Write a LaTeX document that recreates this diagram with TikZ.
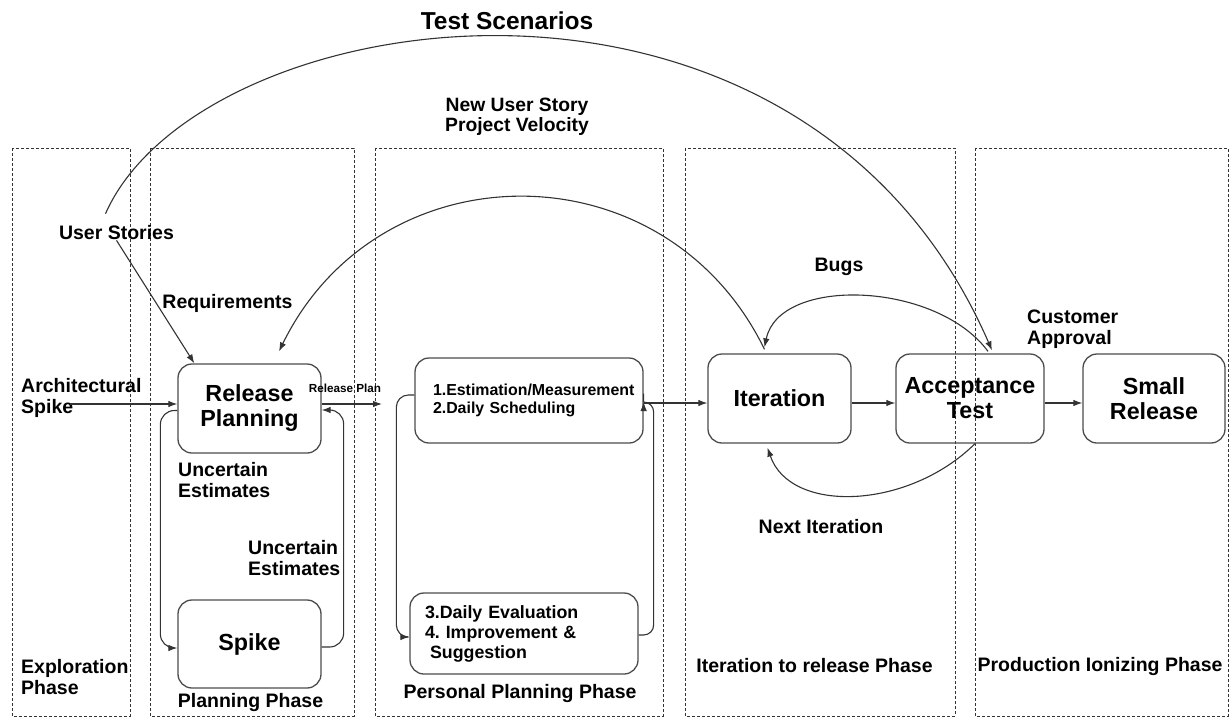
\documentclass[tikz,border=0pt]{standalone}
\usepackage{fontspec}
\setmainfont{Liberation Sans}
\usetikzlibrary{arrows.meta,calc}
\frenchspacing

\tikzset{
    phasebox/.style={draw=black!80, line width=0.9pt, dash pattern=on 3pt off 2pt},
    stepbox/.style={draw=black!70, line width=1.3pt, rounded corners=14pt, align=center,
        font=\bfseries\fontsize{23.3}{25}\selectfont},
    lbl/.style={inner sep=0pt, font=\bfseries\fontsize{19.5}{21}\selectfont},
    link/.style={draw=black!80, line width=1.1pt},
}

\begin{document}
\begin{tikzpicture}[x=1pt, y=-1pt, >={Latex[length=9pt,width=6.5pt]}]
    \useasboundingbox (0,0) rectangle (1229,718);

    % Phase lanes
    \draw[phasebox] (12,148) rectangle (130,716);
    \draw[phasebox] (150,148) rectangle (354,716);
    \draw[phasebox] (375,148) rectangle (663,716);
    \draw[phasebox] (685,148) rectangle (955,716);
    \draw[phasebox] (975,148) rectangle (1228,716);

    % Process boxes
    \node[stepbox, minimum width=143pt, minimum height=89pt] (rp) at (249.5,408.5) {Release\\Planning};
    \node[stepbox, minimum width=143pt, minimum height=88pt] (spike) at (249.5,644) {Spike};
    \node[stepbox, minimum height=85pt, text width=192pt, inner xsep=18pt, align=left,
        font=\bfseries\fontsize{15.9}{18}\selectfont] (est) at (529,400.5)
        {1.Estimation/Measurement\\2.Daily Scheduling};
    \node[stepbox, minimum height=81pt, text width=198pt, inner xsep=15pt, align=left,
        font=\bfseries\fontsize{17.8}{20}\selectfont] (evl) at (524,633.5)
        {3.Daily Evaluation\\4. Improvement \&\\\hspace*{5pt}Suggestion};
    \node[stepbox, minimum width=143pt, minimum height=89pt] (iter) at (779.5,398.5) {Iteration};
    \node[stepbox, minimum width=148pt, minimum height=89pt] (acc) at (970,398.5) {Acceptance\\Test};
    \node[stepbox, minimum width=142pt, minimum height=89pt] (small) at (1154,398.5) {Small\\Release};

    % Labels
    \node[lbl, font=\bfseries\fontsize{24.5}{26}\selectfont] (ts) at (507,21) {Test Scenarios};
    \node[lbl, align=center, font=\bfseries\fontsize{19.3}{20}\selectfont] (nus) at (517,117) {New User Story\\Project Velocity};
    \node[lbl] (us) at (116.5,233) {User Stories};
    \node[lbl] (req) at (227.5,303) {Requirements};
    \node[lbl, anchor=west, align=left] (arch) at (21,397.5) {Architectural\\Spike};
    \node[lbl, font=\bfseries\fontsize{11.7}{13}\selectfont] (relplan) at (345,388) {Release Plan};
    \node[lbl, anchor=west, align=left] (ue1) at (178,480) {Uncertain\\Estimates};
    \node[lbl, anchor=west, align=left] (ue2) at (248,558.5) {Uncertain\\Estimates};
    \node[lbl] (plph) at (250.5,702) {Planning Phase};
    \node[lbl, anchor=west, align=left] (exph) at (21,677) {Exploration\\Phase};
    \node[lbl] (ppph) at (520,693) {Personal Planning Phase};
    \node[lbl] (irph) at (814.5,666) {Iteration to release Phase};
    \node[lbl] (piph) at (1100,666) {Production Ionizing Phase};
    \node[lbl] (bugs) at (839,267) {Bugs};
    \node[lbl, anchor=west, align=left] (ca) at (1027,329) {Customer\\Approval};
    \node[lbl] (ni) at (821,527) {Next Iteration};

    % Free ends
    \coordinate (archend) at (70,404);
    \coordinate (planend) at (382,404);

    % Straight connectors
    \draw[link,->] (archend) -- (archend -| rp.west);
    \draw[link,->] (planend -| rp.east) -- (planend);
    \draw[link,->] (us.south) -- ($(rp.north west)+(17,0)$);
    \draw[link,->] ($(est.east)+(0,2.5)$) -- ($(iter.west)+(0,4.5)$);
    \draw[link,->] ($(iter.east)+(0,4.5)$) -- ($(acc.west)+(0,4.5)$);
    \draw[link,->] ($(acc.east)+(0,4.5)$) -- ($(small.west)+(0,4.5)$);

    % Loops
    \draw[link,->,rounded corners=14pt] ($(rp.west)+(0,2)$) -- ++(-17,0) |- ($(spike.west)+(0,4)$);
    \draw[link,->,rounded corners=14pt] ($(spike.east)+(0,3)$) -- ++(22,0) |- ($(rp.east)+(0,1.5)$);
    \draw[link,->,rounded corners=12pt] ($(est.west)+(0,-5.5)$) -- ++(-18,0) |- ($(evl.west)+(0,3.5)$);
    \draw[link,->,rounded corners=10pt] ($(evl.east)+(0,1.5)$) -- ++(15,0) |- ($(est.east)+(0,1.5)$);

    % Arcs
    \draw[link,->] ($(us.north)+(-11,-12)$) .. controls (200,0) and (800,-90) .. ($(acc.north)+(22,-3)$);
    \draw[link,->] ($(iter.north)+(-15,-4)$) .. controls (665,145) and (379,147) .. ($(rp.north)+(29.5,-12)$);
    \draw[link,->] ($(acc.north)+(18,-2)$) .. controls (936,281) and (779,276) .. ($(iter.north)+(-15,-6)$);
    \draw[link,->] ($(acc.south)+(5,0)$) .. controls (908,510) and (790,514) .. ($(iter.south)+(-12,4)$);
\end{tikzpicture}
\end{document}
